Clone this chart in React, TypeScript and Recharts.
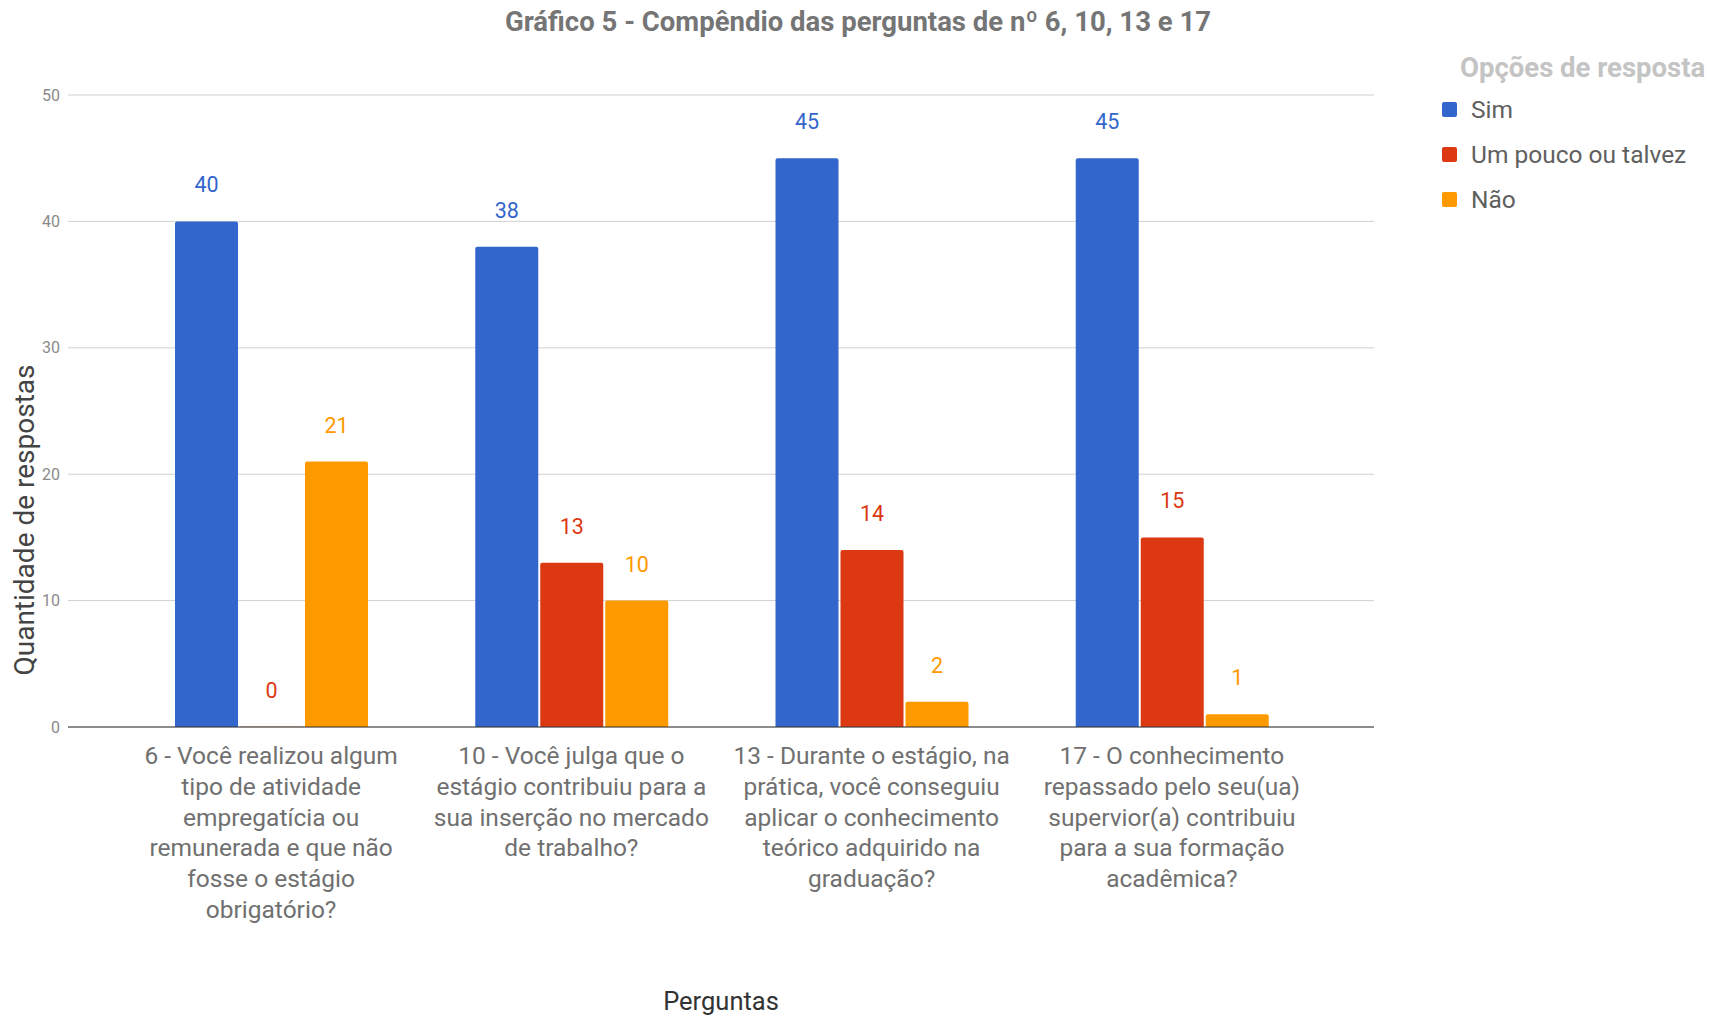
import React from 'react';
import { BarChart, Bar, XAxis, YAxis, CartesianGrid, Legend, LabelList, Label } from 'recharts';

const categories = ['q6', 'q10', 'q13', 'q17'];
const tickLabels: string[][] = [
  ['6 - Você realizou algum', 'tipo de atividade', 'empregatícia ou', 'remunerada e que não', 'fosse o estágio', 'obrigatório?'],
  ['10 - Você julga que o', 'estágio contribuiu para a', 'sua inserção no mercado', 'de trabalho?'],
  ['13 - Durante o estágio, na', 'prática, você conseguiu', 'aplicar o conhecimento', 'teórico adquirido na', 'graduação?'],
  ['17 - O conhecimento', 'repassado pelo seu(ua)', 'supervior(a) contribuiu', 'para a sua formação', 'acadêmica?'],
];
const simValues = [40, 38, 45, 45];
const umPoucoValues = [0, 13, 14, 15];
const naoValues = [21, 10, 2, 1];
const seriesNames = ['Sim', 'Um pouco ou talvez', 'Não'];
const seriesColors = ['#3366cc', '#dc3912', '#ff9900'];
const yTicks = [0, 10, 20, 30, 40, 50];

const title = 'Gráfico 5 - Compêndio das perguntas de nº 6, 10, 13 e 17';
const legendTitle = 'Opções de resposta';
const xTitle = 'Perguntas';
const yTitle = 'Quantidade de respostas';

const data = categories.map((c, i) => ({
  cat: c,
  sim: simValues[i],
  pouco: umPoucoValues[i],
  nao: naoValues[i],
}));

const FONT = 'Roboto, "Noto Sans", sans-serif';

const CategoryTick = (props: any) => {
  const { x, y, payload } = props;
  const idx = categories.indexOf(payload.value);
  const lines = tickLabels[idx] || [];
  return (
    <text x={x} y={y} textAnchor="middle" fill="#707070" fontFamily={FONT} fontSize={24.5}>
      {lines.map((l, i) => (
        <tspan key={i} x={x} y={y + 35 + i * 30.8}>{l}</tspan>
      ))}
    </text>
  );
};

const LegendContent = (props: any) => {
  const payload = [...(props.payload || [])].sort(
    (a: any, b: any) => seriesNames.indexOf(a.value) - seriesNames.indexOf(b.value)
  );
  return (
    <div style={{ fontFamily: FONT }}>
      <div style={{ color: '#c4c4c4', fontWeight: 700, fontSize: 27.5, marginLeft: 18, lineHeight: '30px', whiteSpace: 'nowrap' }}>{legendTitle}</div>
      {payload.map((p: any, i: number) => (
        <div key={i} style={{ display: 'flex', alignItems: 'center', height: 45, marginTop: i === 0 ? 4 : 0 }}>
          <div style={{ width: 15, height: 15, background: p.color, borderRadius: 2, marginRight: 14 }} />
          <span style={{ color: '#5f5f5f', fontSize: 24.5, whiteSpace: 'nowrap' }}>{p.value}</span>
        </div>
      ))}
    </div>
  );
};

const minSize = (v: any) => (v === 0 ? 0.2 : 0);

export default function App() {
  return (
    <div style={{ position: 'absolute', left: 0, top: 0, width: 1724, height: 1018, background: '#fff' }}>
      <div style={{ position: 'absolute', left: 0, top: 6, width: 1716, textAlign: 'center', fontFamily: FONT, fontWeight: 700, fontSize: 27.5, color: '#757575', lineHeight: '32px', whiteSpace: 'nowrap' }}>
        {title}
      </div>
      <BarChart
        width={1724}
        height={1018}
        data={data}
        margin={{ top: 95, right: 350, bottom: 0, left: 0 }}
        barGap={2}
        barSize={63}
      >
        <CartesianGrid vertical={false} stroke="#d0d0d0" />
        <XAxis
          dataKey="cat"
          height={291}
          padding={{ left: 53, right: 52 }}
          tickLine={false}
          tickSize={0}
          axisLine={{ stroke: '#333' }}
          interval={0}
          tick={<CategoryTick />}
        >
          <Label
            content={(p: any) => {
              const vb = p.viewBox;
              return (
                <text x={vb.x + vb.width / 2} y={vb.y + vb.height - 8} textAnchor="middle" fill="#333" fontFamily={FONT} fontSize={25.5}>
                  {xTitle}
                </text>
              );
            }}
          />
        </XAxis>
        <YAxis
          domain={[0, 50]}
          ticks={yTicks}
          width={68}
          axisLine={false}
          tickLine={false}
          tickSize={0}
          tickMargin={8}
          tick={{ fill: '#8a8a8a', fontSize: 16, fontFamily: FONT }}
        >
          <Label
            content={(p: any) => {
              const vb = p.viewBox;
              const cx = 34;
              const cy = vb.y + 425;
              return (
                <text x={cx} y={cy} transform={`rotate(-90, ${cx}, ${cy})`} textAnchor="middle" fill="#444" fontFamily={FONT} fontSize={28}>
                  {yTitle}
                </text>
              );
            }}
          />
        </YAxis>
        <Legend
          layout="horizontal"
          verticalAlign="middle"
          align="center"
          wrapperStyle={{ top: 53, left: 1442, width: 282 }}
          content={<LegendContent />}
        />
        <Bar dataKey="sim" name={seriesNames[0]} fill={seriesColors[0]} radius={[2, 2, 0, 0]} isAnimationActive={false}>
          <LabelList dataKey="sim" position="top" offset={29} fill={seriesColors[0]} fontSize={21.5} fontFamily={FONT} />
        </Bar>
        <Bar dataKey="pouco" name={seriesNames[1]} fill={seriesColors[1]} radius={[2, 2, 0, 0]} minPointSize={minSize} isAnimationActive={false}>
          <LabelList dataKey="pouco" position="top" offset={29} fill={seriesColors[1]} fontSize={21.5} fontFamily={FONT} />
        </Bar>
        <Bar dataKey="nao" name={seriesNames[2]} fill={seriesColors[2]} radius={[2, 2, 0, 0]} isAnimationActive={false}>
          <LabelList dataKey="nao" position="top" offset={29} fill={seriesColors[2]} fontSize={21.5} fontFamily={FONT} />
        </Bar>
      </BarChart>
    </div>
  );
}
